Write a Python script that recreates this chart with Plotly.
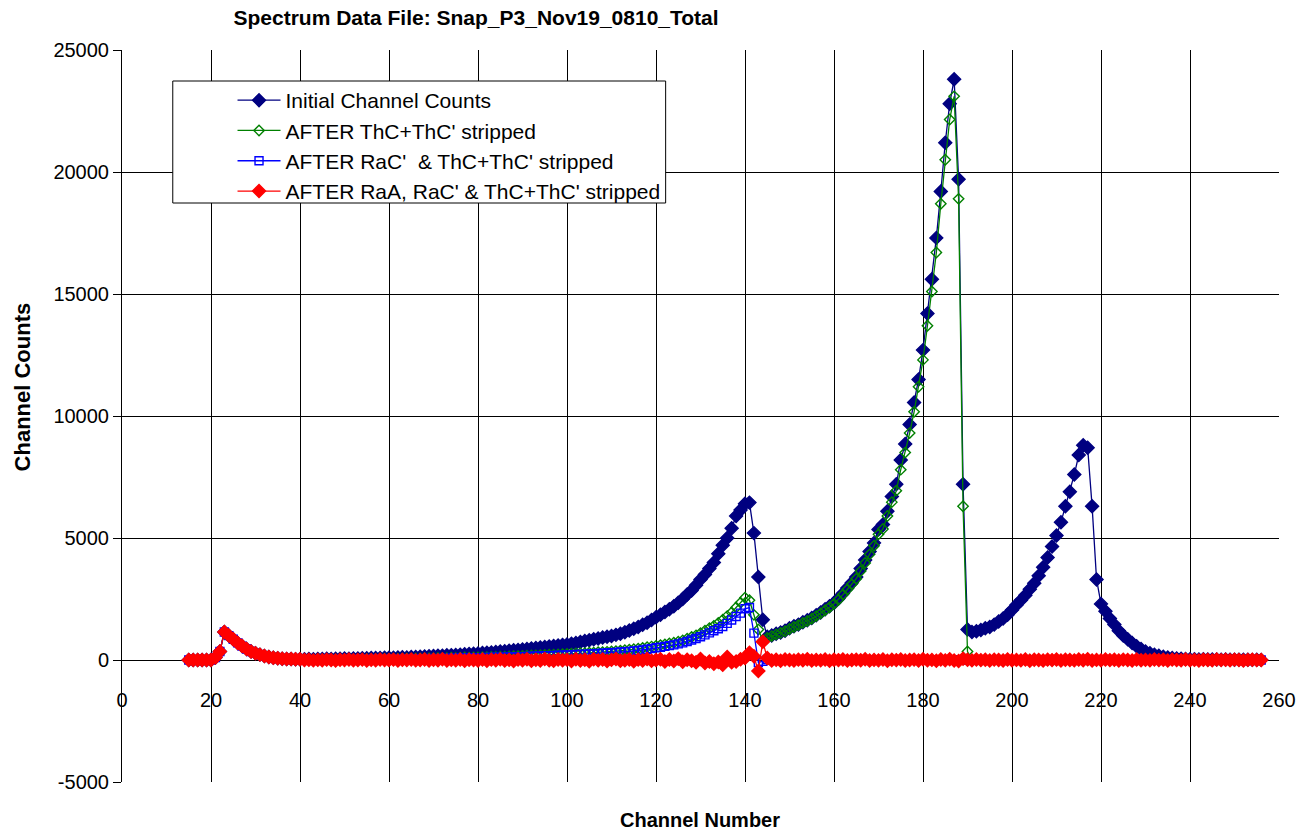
import plotly.graph_objects as go

channels = list(range(15, 257))

initial_counts = [
    0, 0, 0, 0, 0, 0, 100,
    350, 1150, 1000, 850, 700, 570, 450, 350, 280, 220, 160, 120, 90, 70, 55, 45, 40, 35, 30,
    35, 40, 30, 45, 40, 50, 45, 55, 50, 60, 55, 65, 60, 75, 70, 80, 85, 80, 90, 95,
    90, 100, 110, 105, 120, 125, 135, 140, 150, 160, 170, 175, 190, 200, 210, 220, 235, 245, 260, 270,
    285, 300, 310, 330, 345, 360, 380, 395, 410, 430, 450, 470, 490, 510, 530, 550, 570, 590, 620, 640,
    670, 700, 740, 780, 810, 850, 880, 920, 950, 980, 1030, 1080, 1140, 1210, 1280, 1350, 1440, 1530, 1640, 1750,
    1850, 1970, 2080, 2200, 2350, 2500, 2680, 2850, 3060, 3300, 3500, 3750, 4000, 4350, 4700, 5000, 5400, 5900, 6150, 6400, 6450, 5200, 3400, 1650, 950,
    1000, 1080, 1130, 1200, 1300, 1380, 1450, 1550, 1630, 1720, 1830, 1950, 2080, 2200, 2340, 2520, 2730, 2950, 3170, 3400, 3750, 4100, 4450, 4800, 5350,
    5550, 6100, 6700, 7200, 8200, 8850, 9650, 10550, 11500, 12700, 14200, 15600, 17300, 19200, 21200, 22800, 23800, 19700, 7200, 1250,
    1150, 1180, 1230, 1300, 1350, 1450, 1580, 1700, 1850, 2050, 2250, 2450, 2650, 2900, 3150, 3450, 3800, 4200, 4650, 5100,
    5650, 6300, 6900, 7600, 8400, 8800, 8700, 6300, 3300, 2300, 2000, 1700, 1450, 1200, 1000, 850, 700, 560, 450, 350,
    280, 220, 170, 130, 100, 80, 60, 50, 40, 35, 30, 25, 30, 20, 25, 20, 15, 20, 15, 10, 15, 10, 10, 5, 10, 5,
]

after_thc = [
    0, 0, 0, 0, 0, 0, 100,
    350, 1150, 1000, 850, 700, 570, 450, 350, 280, 220, 160, 120, 90, 70, 55, 45, 40, 35, 30,
    20, 25, 15, 30, 20, 25, 20, 30, 25, 35, 25, 30, 35, 30, 40, 35, 45, 40, 50, 45,
    50, 55, 50, 60, 55, 65, 60, 70, 75, 70, 80, 75, 85, 90, 85, 95, 100, 95, 110, 105,
    115, 120, 125, 130, 140, 135, 150, 155, 160, 170, 175, 185, 190, 200, 205, 215, 220, 230, 240, 250,
    255, 265, 275, 280, 295, 300, 315, 325, 335, 350, 365, 380, 400, 420, 440, 460, 490, 520, 550, 580,
    610, 640, 680, 710, 750, 800, 870, 940, 1010, 1100, 1200, 1300, 1400, 1520, 1650, 1800, 1950, 2150, 2350, 2550, 2450, 1850, 1250, 800, 900,
    980, 1050, 1110, 1180, 1270, 1350, 1430, 1520, 1600, 1690, 1800, 1910, 2040, 2160, 2300, 2470, 2680, 2890, 3100, 3330, 3650, 3980, 4330, 4680, 5150,
    5370, 5900, 6470, 6940, 7800, 8500, 9300, 10170, 11200, 12300, 13700, 15100, 16700, 18700, 20500, 22150, 23100, 18900, 6300, 350,
    0, 10, -10, 0, 5, -5, 0, 10, 0, -10, 5, 0, -5, 10, 0, 5, -10, 0, 5, 0,
    0, -5, 10, 0, -10, 5, 0, 10, -5, 0, 5, 0, -10, 5, 0, 10, 0, -5, 0, 5,
    0, 5, -5, 0, 10, 0, -5, 5, 0, 0, 5, -5, 0, 5, 0, -5, 0, 5, 0, 0, -5, 5, 0, 0, 5, 0,
]

after_rac_thc = [
    0, 0, 0, 0, 0, 0, 100,
    350, 1150, 1000, 850, 700, 570, 450, 350, 280, 220, 160, 120, 90, 70, 55, 45, 40, 35, 30,
    15, 20, 10, 25, 15, 20, 15, 25, 20, 25, 20, 25, 30, 25, 30, 25, 35, 30, 40, 35,
    40, 45, 40, 50, 45, 55, 50, 55, 60, 55, 65, 60, 70, 75, 70, 80, 85, 80, 90, 85,
    95, 100, 105, 110, 115, 110, 125, 130, 135, 140, 145, 155, 160, 165, 175, 180, 185, 195, 200, 210,
    215, 225, 230, 240, 250, 255, 265, 275, 285, 300, 310, 325, 340, 355, 375, 390, 410, 440, 465, 500,
    525, 560, 590, 620, 660, 700, 760, 820, 880, 950, 1030, 1110, 1200, 1280, 1370, 1500, 1640, 1780, 1920, 2100, 2150, 1100, -100, -50, 20,
    0, 10, -5, 0, 5, -10, 0, 5, 0, -5, 10, 0, -5, 5, 0, 10, -5, 0, 5, 0, -10, 5, 0, 10, -5,
    0, 5, -5, 10, 0, -5, 5, 0, 10, -5, 0, 5, 0, -10, 5, 0, 10, 0, -5, 0,
    5, 0, -5, 10, 0, 5, -5, 0, 5, 0, -10, 5, 0, 10, -5, 0, 5, 0, -5, 10,
    0, 5, -5, 0, 10, 0, -5, 5, 0, 0, 5, -5, 0, 10, 0, -5, 5, 0, 0, 5,
    0, -5, 5, 0, 10, 0, -5, 0, 5, 0, -5, 5, 0, 0, 5, 0, -5, 5, 0, 0, 5, -5, 0, 5, 0, 0,
]

after_raa_rac_thc = [
    0, 0, 0, 0, 0, 0, 100,
    350, 1150, 1000, 850, 700, 570, 450, 350, 280, 220, 160, 120, 90, 70, 55, 45, 40, 35, 30,
    0, 10, -15, 5, -10, 15, 0, -20, 10, -5, 20, -10, 0, 15, -20, 5, -10, 20, -5, 0,
    15, -20, 10, -5, 25, -15, 0, 20, -25, 10, -10, 30, -20, 5, -15, 25, -30, 10, 0, -20,
    20, -35, 15, -10, 30, -25, 5, -40, 20, -10, 35, -30, 10, -20, 40, -15, -35, 25, -10, 15,
    -40, 30, -20, 10, -50, 35, -15, 20, -45, 5, 40, -30, -10, 25, -55, 15, -20, 45, -35, 0,
    30, -60, 20, -40, 50, -70, 10, -30, -90, 40, -120, -60, -150, -80, -200, 120, -90, -60, 30, 80, 300, 150, -450, 750, 80,
    -20, 10, -30, 20, 0, -25, 15, -10, 30, -20, 5, -15, 25, -30, 10, -5, 20, -25, 0, 15, -10, 30, -20, 5, -15,
    20, -30, 10, -5, 25, -20, 0, 15, -25, 30, -10, 5, -30, 20, -15, 35, -20, -40, 50, 10,
    -15, 20, -5, 10, -25, 15, 0, -20, 25, -10, 5, -15, 20, -30, 10, 0, -20, 15, -5, 25,
    -25, 10, 0, -15, 20, -10, 30, -20, 5, -15, 25, -5, 10, -25, 15, 0, -20, 20, -10, 5,
    -15, 20, -5, 10, -20, 15, 0, -10, 25, -15, 5, -20, 10, 0, -15, 20, -5, 10, -10, 15, 0, -20, 5, 10, -5, 0,
]

series_names = [
    "Initial Channel Counts",
    "AFTER ThC+ThC' stripped",
    "AFTER RaC'  & ThC+ThC' stripped",
    "AFTER RaA, RaC' & ThC+ThC' stripped",
]
x_ticks = list(range(0, 261, 20))
y_ticks = list(range(-5000, 25001, 5000))
y_tick_labels = [str(v) for v in y_ticks]

styles = [
    dict(color="#000080", symbol="diamond", size=10),
    dict(color="#008000", symbol="diamond-open", size=8),
    dict(color="#0000FF", symbol="square-open", size=8),
    dict(color="#FF0000", symbol="diamond", size=10),
]

fig = go.Figure()
for name, vals, st in zip(series_names,
                          [initial_counts, after_thc, after_rac_thc, after_raa_rac_thc],
                          styles):
    fig.add_trace(go.Scatter(
        x=channels, y=vals, mode="lines+markers", name=name, legendgroup=name,
        line=dict(color=st["color"], width=1.3),
        marker=dict(symbol=st["symbol"], size=st["size"], color=st["color"],
                    line=dict(color=st["color"], width=1.4)),
    ))

FONT = "Liberation Sans, Arial, sans-serif"
fig.update_layout(
    width=1308, height=836,
    margin=dict(l=122, r=24, t=50, b=54),
    paper_bgcolor="white", plot_bgcolor="white",
    font=dict(family=FONT, color="black"),
    title=dict(text="Spectrum Data File: Snap_P3_Nov19_0810_Total",
               font=dict(size=21, family=FONT, weight="bold", color="black"),
               x=0.306, xref="paper", xanchor="center",
               y=1 - 18 / 836, yref="container", yanchor="middle"),
    xaxis=dict(range=[0, 260], tickvals=x_ticks, showgrid=True, gridcolor="black",
               gridwidth=1, zeroline=False, showline=False, anchor="free",
               position=(782 - 660) / 732, ticks="", ticklabelstandoff=26,
               tickfont=dict(size=20, family=FONT)),
    yaxis=dict(range=[-5000, 25000], tickvals=y_ticks, ticktext=y_tick_labels,
               showgrid=True, gridcolor="black",
               gridwidth=1, zeroline=False, showline=True, linecolor="black", linewidth=1,
               ticks="outside", ticklen=8, tickcolor="black",
               tickfont=dict(size=20, family=FONT)),
    showlegend=True,
    legend=dict(x=(233 - 122) / 1162, xanchor="left", y=(782 - 80) / 732, yanchor="top",
                bgcolor="rgba(0,0,0,0)", borderwidth=0, itemwidth=43,
                tracegroupgap=0, font=dict(size=21, family=FONT)),
    shapes=[dict(type="rect", xref="paper", yref="paper",
                 x0=(173 - 122) / 1162, x1=(668 - 122) / 1162,
                 y0=(782 - 203) / 732, y1=(782 - 81) / 732,
                 fillcolor="white", line=dict(color="black", width=1), layer="above")],
    annotations=[
        dict(text="Channel Number", xref="paper", yref="paper",
             x=(702 - 122) / 1162, y=(782 - 820) / 732, showarrow=False,
             xanchor="center", yanchor="middle",
             font=dict(size=20, family=FONT, weight="bold")),
        dict(text="Channel Counts", xref="paper", yref="paper",
             x=(22 - 122) / 1162, y=(782 - 387) / 732, showarrow=False, textangle=-90,
             xanchor="center", yanchor="middle",
             font=dict(size=22, family=FONT, weight="bold")),
    ],
)

fig.write_html("out.html")
